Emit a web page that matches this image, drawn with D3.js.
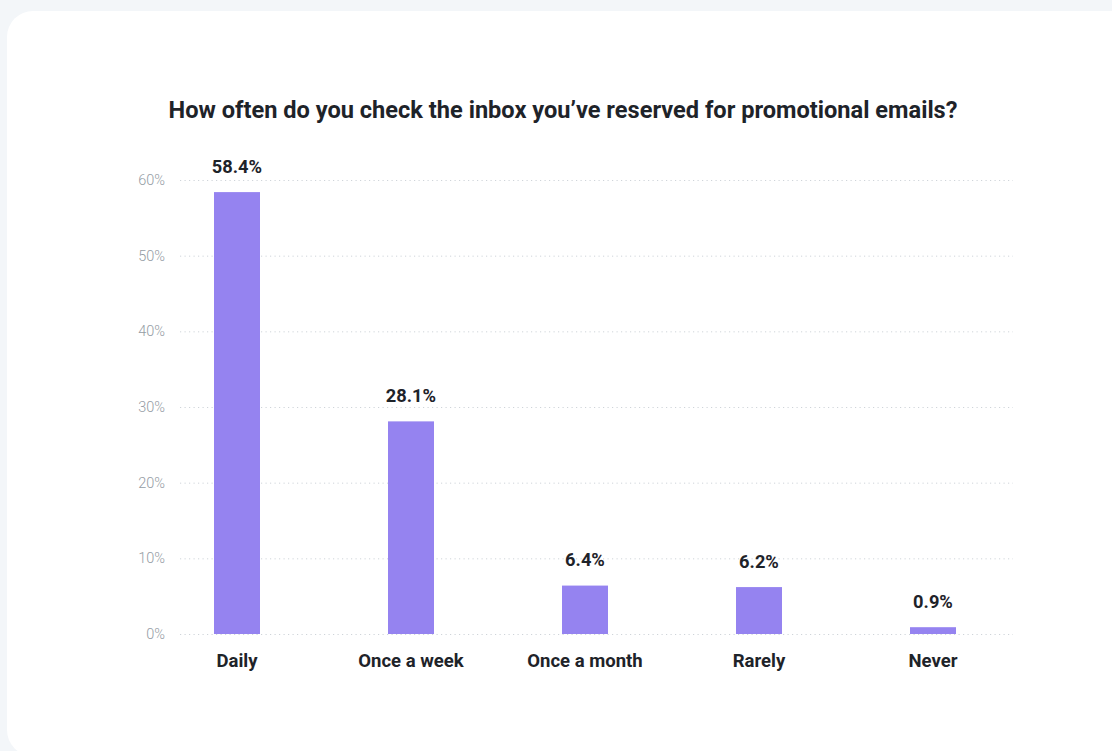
<!DOCTYPE html>
<html>
<head>
<meta charset="utf-8">
<script src="https://cdn.jsdelivr.net/npm/d3@7"></script>
<style>
  html, body { margin: 0; padding: 0; background: #f3f6f9; }
  svg { display: block; font-family: Roboto, "Noto Sans", sans-serif; }
</style>
</head>
<body>
<svg id="chart" width="1112" height="751"></svg>
<script>
// Survey answers and their shares (percent of respondents)
const categories = ["Daily", "Once a week", "Once a month", "Rarely", "Never"];
const shares = [58.4, 28.1, 6.4, 6.2, 0.9];
const yTicks = [0, 10, 20, 30, 40, 50, 60];
const title = "How often do you check the inbox you\u2019ve reserved for promotional emails?";

const svg = d3.select("#chart");

// white card
svg.append("rect")
  .attr("x", 7).attr("y", 11)
  .attr("width", 1130).attr("height", 745)
  .attr("rx", 26).attr("ry", 26)
  .attr("fill", "#ffffff");

const x = d3.scaleBand()
  .domain(categories)
  .range([150, 1020])
  .paddingInner(0.7356)
  .paddingOuter(0.3678);

const y = d3.scaleLinear()
  .domain([0, 60])
  .range([634, 180]);

// title
svg.append("text")
  .attr("x", 563).attr("y", 118)
  .attr("text-anchor", "middle")
  .attr("font-size", 23.6)
  .attr("font-weight", 700)
  .attr("fill", "#1e2329")
  .text(title);

// y axis with dotted grid lines
const yAxis = svg.append("g")
  .attr("transform", "translate(180,0)")
  .call(d3.axisLeft(y).tickValues(yTicks).tickSize(-833).tickPadding(15)
    .tickFormat(d => d + "%"));
yAxis.select(".domain").remove();
yAxis.selectAll(".tick line")
  .attr("stroke", "#cfd4d9")
  .attr("stroke-width", 1)
  .attr("stroke-dasharray", "1.2,3.3");
yAxis.selectAll(".tick text")
  .attr("font-family", "Roboto, sans-serif")
  .attr("font-size", 14.5)
  .attr("font-weight", 300)
  .attr("fill", "#949ca4");

// bars
svg.append("g").selectAll("rect")
  .data(categories)
  .join("rect")
  .attr("x", d => x(d))
  .attr("width", x.bandwidth())
  .attr("y", (d, i) => y(shares[i]))
  .attr("height", (d, i) => y(0) - y(shares[i]))
  .attr("fill", "#9583f0");

// value labels above bars
svg.append("g").selectAll("text")
  .data(categories)
  .join("text")
  .attr("x", d => x(d) + x.bandwidth() / 2)
  .attr("y", (d, i) => y(shares[i]) - 19.5)
  .attr("text-anchor", "middle")
  .attr("font-size", 18.3)
  .attr("font-weight", 700)
  .attr("fill", "#1e2329")
  .text((d, i) => shares[i].toFixed(1) + "%");

// category axis
const xAxis = svg.append("g")
  .attr("transform", "translate(0,634)")
  .call(d3.axisBottom(x).tickSize(0).tickPadding(20));
xAxis.select(".domain").remove();
xAxis.selectAll(".tick text")
  .attr("font-family", "Roboto, sans-serif")
  .attr("font-size", 18.5)
  .attr("font-weight", 700)
  .attr("fill", "#1e2329");
</script>
</body>
</html>
